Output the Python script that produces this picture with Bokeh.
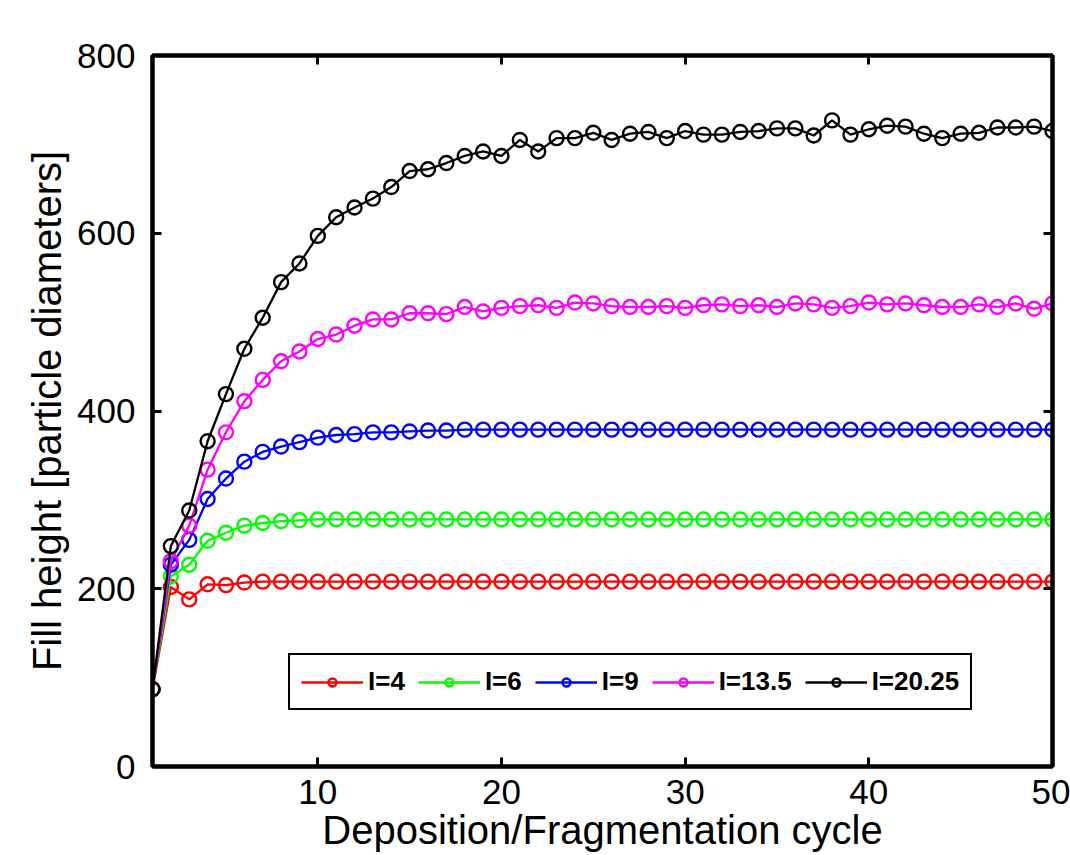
from bokeh.plotting import figure
from bokeh.models import Range1d, FixedTicker, LinearAxis, Legend, LegendItem
from bokeh.embed import file_html
from bokeh.resources import INLINE

cycles = list(range(1, 51))

labels = ["I=4", "I=6", "I=9", "I=13.5", "I=20.25"]
colors = ["#ff0000", "#00ff00", "#0000ff", "#ff00ff", "#000000"]

h_I4 = [87, 202, 188, 205, 204, 207] + [208] * 44
h_I6 = [87, 214, 227, 254, 263, 271, 274, 276, 277] + [278] * 41
h_I9 = [87, 227, 255, 301, 324, 343, 354, 360, 365, 370, 373, 374, 376, 376,
        377, 378, 378] + [379] * 33
h_I13_5 = [87, 231, 271, 334, 376, 411, 435, 456, 467, 481, 486, 496, 503, 503,
           510, 510, 509, 517, 512, 516, 518, 519, 516, 522, 521, 518, 517, 517,
           518, 516, 519, 520, 518, 519, 517, 521, 520, 516, 518, 522, 520, 521,
           519, 517, 517, 520, 517, 521, 515, 521]
h_I20_25 = [87, 248, 288, 366, 419, 470, 505, 545, 566, 597, 618, 629, 639, 652,
            670, 672, 679, 687, 692, 687, 705, 692, 707, 707, 713, 705, 712, 714,
            707, 715, 711, 711, 714, 715, 718, 718, 710, 727, 711, 717, 721, 720,
            712, 707, 712, 713, 719, 719, 720, 715]

series = [h_I4, h_I6, h_I9, h_I13_5, h_I20_25]

x_ticks = [10, 20, 30, 40, 50]
y_ticks = [0, 200, 400, 600, 800]

FONT = "Liberation Sans"

p = figure(width=1070, height=855, output_backend="svg", toolbar_location=None,
           x_range=Range1d(1, 50), y_range=Range1d(0, 800),
           min_border_left=152, min_border_right=18, min_border_top=55,
           min_border_bottom=89)
p.background_fill_color = "white"
p.border_fill_color = "white"
p.grid.visible = False
p.outline_line_color = "black"
p.outline_line_width = 4

for ax, tk in ((p.xaxis[0], x_ticks), (p.yaxis[0], y_ticks)):
    ax.ticker = FixedTicker(ticks=tk)
    ax.minor_tick_line_color = None
    ax.major_tick_in = 9
    ax.major_tick_out = 0
    ax.major_tick_line_width = 3
    ax.axis_line_width = 4
    ax.major_label_text_font = FONT
    ax.major_label_text_font_size = "35px"
    ax.major_label_text_color = "black"
    ax.axis_label_text_font = FONT
    ax.axis_label_text_font_size = "40px"
    ax.axis_label_text_font_style = "normal"
    ax.axis_label_text_color = "black"

p.xaxis[0].major_label_standoff = 13
p.xaxis[0].axis_label = "Deposition/Fragmentation cycle"
p.xaxis[0].axis_label_standoff = 1
p.yaxis[0].major_label_standoff = 17
p.yaxis[0].axis_label = "Fill height [particle diameters]"
p.yaxis[0].axis_label_standoff = 5

for side, tk in (("above", x_ticks), ("right", y_ticks)):
    ax = LinearAxis(ticker=FixedTicker(ticks=tk),
                    major_label_overrides={t: "" for t in tk})
    ax.minor_tick_line_color = None
    ax.major_tick_in = 9
    ax.major_tick_out = 0
    ax.major_tick_line_width = 3
    ax.axis_line_width = 4
    ax.major_label_standoff = 0
    p.add_layout(ax, side)

items = []
for lab, col, ys in zip(labels, colors, series):
    r1 = p.line(cycles, ys, line_color=col, line_width=2.3)
    r2 = p.scatter(cycles, ys, marker="circle", size=14, line_color=col,
                   line_width=2.4, fill_alpha=0)
    items.append(LegendItem(label=lab, renderers=[r1, r2]))

legend = Legend(items=items, orientation="horizontal", location=(136, 56),
                glyph_width=62, glyph_height=20, label_standoff=5, spacing=13,
                padding=11, margin=0, border_line_color="black",
                border_line_width=2, border_line_alpha=1, label_text_font=FONT,
                label_text_font_size="26px", label_text_font_style="bold",
                label_text_color="black", background_fill_color="white",
                background_fill_alpha=1)
p.add_layout(legend)

open("out.html", "w").write(file_html(p, INLINE))
